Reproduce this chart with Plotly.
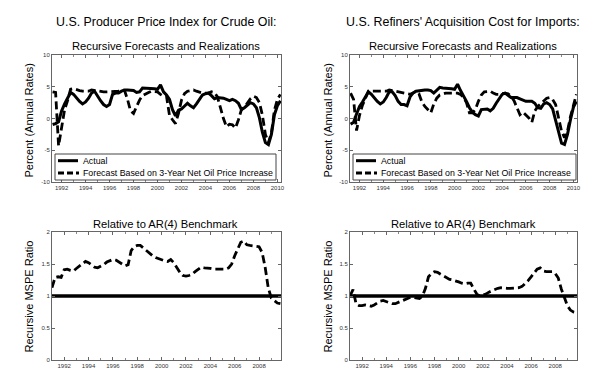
import plotly.graph_objects as go

# ---------------- data ----------------
# quarterly dates (decimal years)
top_dates = [1991.25 + 0.25 * i for i in range(77)]      # 1991Q2 .. 2010Q2
bot_dates = [1991.0 + 0.25 * i for i in range(76)]       # 1991Q1 .. 2009Q4

ppi_actual = [-0.95, -0.8, -0.5,
              1.2, 2.3, 3.3, 4.1,
              3.8, 3.2, 2.7, 2.3,
              2.6, 3.2, 4.0, 4.3,
              3.5, 2.8, 2.2, 1.9,
              2.2, 3.8, 4.0, 4.0,
              4.3, 4.5, 4.5, 4.4,
              4.4, 4.1, 4.2, 4.8,
              4.8, 4.8, 4.7, 4.7,
              4.6, 5.3, 4.2, 3.7,
              3.0, 1.4, 0.4, 1.3,
              1.5, 1.9, 2.4, 2.0,
              1.7, 2.3, 3.0, 3.7,
              3.9, 4.0, 3.6, 3.1,
              3.3, 3.3, 3.2, 3.0,
              2.8, 3.0, 2.8, 2.4,
              1.4, 1.7, 2.1, 2.5,
              2.3, 1.7, 0.1, -2.2,
              -3.8, -4.1, -2.5, 0.6,
              2.0, 2.8]
ppi_forecast = [4.2, 4.1, -4.3,
                -1.2, 1.4, 2.8, 4.6,
                4.7, 4.5, 4.4, 4.3,
                4.3, 4.3, 4.5, 4.4,
                4.3, 4.2, 4.2, 4.2,
                4.2, 4.2, 4.3, 4.3,
                4.5, 4.4, 3.0, 1.2,
                0.8, 1.9, 2.9, 3.6,
                3.9, 4.1, 4.3, 4.3,
                4.2, 3.8, 3.5, 3.5,
                0.5, -0.2, -0.8, 0.8,
                2.9, 3.9, 4.3, 4.4,
                4.5, 4.3, 4.1, 4.0,
                4.0, 4.0, 4.2, 4.1,
                3.4, 1.6, 0.0, -1.3,
                -0.9, -1.0, -1.5, -0.2,
                1.4, 1.8, 2.5, 3.1,
                3.5, 3.3, 2.5, 0.5,
                -2.5, -3.8, -2.3, 1.3,
                3.0, 3.8]

rac_actual = [-0.9, -0.6, 0.7,
              1.9, 2.6, 3.4, 4.2,
              3.8, 3.2, 2.7, 2.3,
              2.6, 3.3, 4.2, 4.2,
              3.6, 2.7, 2.2, 2.2,
              2.0, 3.4, 4.0, 4.3,
              4.4, 4.5, 4.5, 4.5,
              4.4, 4.0, 4.4, 4.9,
              4.8, 4.8, 4.7, 4.7,
              4.6, 5.4, 4.4, 3.6,
              2.7, 1.7, 1.0, 0.6,
              0.4, 1.4, 1.5, 1.5,
              1.2, 1.6, 2.4, 3.2,
              3.8, 4.0, 3.7, 3.3,
              3.3, 3.3, 3.1, 2.9,
              2.7, 2.7, 2.7, 2.4,
              1.7, 1.6, 2.3, 2.5,
              2.2, 1.5, -0.3, -2.5,
              -3.9, -4.1, -2.5, -0.2,
              1.8, 2.7]
rac_forecast = [4.0, 3.0, -1.9,
                0.5, 2.1, 3.2, 4.3,
                4.3, 4.3, 4.2, 4.2,
                4.2, 4.3, 4.5, 4.4,
                4.3, 4.2, 4.0, 4.0,
                3.9, 3.8, 4.0, 4.3,
                3.9, 2.6, 1.9, 1.4,
                0.9, 2.3, 3.2, 3.7,
                3.9, 4.0, 4.0, 4.0,
                4.0, 4.0, 3.8, 3.3,
                2.5, 0.9, 0.9, 1.4,
                2.7, 3.7, 4.2, 4.3,
                4.3, 4.0, 3.8, 3.8,
                3.9, 4.0, 3.9, 3.5,
                2.8, 1.6, 0.6, 1.0,
                0.5, 0.1, -0.6, 1.2,
                1.9, 2.3, 2.7, 3.2,
                3.3, 3.0, 2.2, 0.2,
                -2.0, -3.0, -2.0, 0.3,
                2.2, 3.8]

ppi_mspe = [1.13, 1.29, 1.30, 1.29,
            1.41, 1.42, 1.40, 1.39,
            1.43, 1.47, 1.50, 1.54,
            1.52, 1.48, 1.45, 1.44,
            1.46, 1.49, 1.53, 1.55,
            1.57, 1.56, 1.53, 1.50,
            1.47, 1.49, 1.71, 1.77,
            1.79, 1.79, 1.75, 1.71,
            1.66, 1.63, 1.60, 1.58,
            1.56, 1.55, 1.54, 1.57,
            1.52, 1.44, 1.37, 1.32,
            1.31, 1.32, 1.34, 1.38,
            1.41, 1.45, 1.44, 1.44,
            1.43, 1.42, 1.42, 1.42,
            1.42, 1.42, 1.44, 1.50,
            1.63, 1.73, 1.84, 1.86,
            1.80, 1.79, 1.78, 1.78,
            1.77, 1.68, 1.45, 1.13,
            0.97, 0.93, 0.89, 0.88]
rac_mspe = [1.00, 1.10, 0.88, 0.85,
            0.85, 0.86, 0.85, 0.84,
            0.86, 0.89, 0.92, 0.93,
            0.91, 0.90, 0.88, 0.88,
            0.90, 0.92, 0.95, 0.97,
            0.98, 0.98, 0.97, 0.96,
            1.00, 1.12, 1.30, 1.35,
            1.38, 1.37, 1.34, 1.31,
            1.28, 1.26, 1.25, 1.24,
            1.22, 1.20, 1.19, 1.20,
            1.20, 1.11, 1.03, 1.00,
            1.01, 1.03, 1.06, 1.08,
            1.11, 1.12, 1.13, 1.12,
            1.12, 1.12, 1.12, 1.12,
            1.13, 1.15, 1.19, 1.24,
            1.30, 1.37, 1.42, 1.44,
            1.39, 1.38, 1.38, 1.38,
            1.35, 1.28, 1.11, 0.98,
            0.85, 0.78, 0.75, 0.74]
benchmark = [1.0, 1.0]

top_xticks = [1992, 1994, 1996, 1998, 2000, 2002, 2004, 2006, 2008, 2010]
bot_xticks = [1992, 1994, 1996, 1998, 2000, 2002, 2004, 2006, 2008]
top_yticks = [-10, -5, 0, 5, 10]
top_ylabels = ["-10", "-5", "0", "5", "10"]
bot_yticks = [0, 0.5, 1, 1.5, 2]
bot_ylabels = ["0", "0.5", "1", "1.5", "2"]

legend_names = ["Actual", "Forecast Based on 3-Year Net Oil Price Increase"]
titles_left = ["U.S. Producer Price Index for Crude Oil:", "Recursive Forecasts and Realizations",
               "Relative to AR(4) Benchmark"]
titles_right = ["U.S. Refiners' Acquisition Cost for Imports:", "Recursive Forecasts and Realizations",
                "Relative to AR(4) Benchmark"]

# ---------------- figure ----------------
W, H = 600, 371
FONT = "Arial, Liberation Sans, sans-serif"
DASH = "8px,4px"
SOLID_W = 3.0
DASH_W = 2.8

def px_x(p):
    return p / W

def px_y(p):
    return 1 - p / H

fig = go.Figure()

# top-left
fig.add_trace(go.Scatter(x=top_dates, y=ppi_actual, mode="lines", name=legend_names[0], showlegend=False,
                         line=dict(color="black", width=SOLID_W), xaxis="x", yaxis="y"))
fig.add_trace(go.Scatter(x=top_dates, y=ppi_forecast, mode="lines", name=legend_names[1], showlegend=False,
                         line=dict(color="black", width=DASH_W, dash=DASH), xaxis="x", yaxis="y"))
# top-right
fig.add_trace(go.Scatter(x=top_dates, y=rac_actual, mode="lines", name=legend_names[0], showlegend=False,
                         line=dict(color="black", width=SOLID_W), xaxis="x2", yaxis="y2"))
fig.add_trace(go.Scatter(x=top_dates, y=rac_forecast, mode="lines", name=legend_names[1], showlegend=False,
                         line=dict(color="black", width=DASH_W, dash=DASH), xaxis="x2", yaxis="y2"))
# bottom-left
fig.add_trace(go.Scatter(x=[bot_dates[0], 2009.8], y=benchmark, mode="lines", showlegend=False,
                         line=dict(color="black", width=3.5), xaxis="x3", yaxis="y3"))
fig.add_trace(go.Scatter(x=bot_dates, y=ppi_mspe, mode="lines", showlegend=False,
                         line=dict(color="black", width=DASH_W, dash=DASH), xaxis="x3", yaxis="y3"))
# bottom-right
fig.add_trace(go.Scatter(x=[bot_dates[0], 2009.8], y=benchmark, mode="lines", showlegend=False,
                         line=dict(color="black", width=3.5), xaxis="x4", yaxis="y4"))
fig.add_trace(go.Scatter(x=bot_dates, y=rac_mspe, mode="lines", showlegend=False,
                         line=dict(color="black", width=DASH_W, dash=DASH), xaxis="x4", yaxis="y4"))

LEFT_X = [px_x(44), px_x(273)]
RIGHT_X = [px_x(342), px_x(569)]
TOP_Y = [px_y(174), px_y(47)]
BOT_Y = [px_y(352), px_y(224)]

tickfont = dict(family=FONT, size=6, color="#333333")
common = dict(showline=True, linecolor="#666666", linewidth=1, mirror="allticks",
              ticks="inside", ticklen=3, tickcolor="#666666", showgrid=False,
              zeroline=False, tickfont=tickfont, fixedrange=True)

def xaxis(domain, anchor, rng, ticks):
    return dict(domain=domain, anchor=anchor, range=rng, tickvals=ticks,
                ticktext=[str(t) for t in ticks],
                minor=dict(dtick=1, tick0=1991, ticks="inside", ticklen=2, tickcolor="#888888"),
                **common)

def yaxis(domain, anchor, rng, ticks, labels):
    return dict(domain=domain, anchor=anchor, range=rng, tickvals=ticks, ticktext=labels, **common)

fig.update_layout(
    width=W, height=H, autosize=False,
    margin=dict(l=0, r=0, t=0, b=0, autoexpand=False),
    paper_bgcolor="white", plot_bgcolor="white",
    font=dict(family=FONT, color="black"),
    showlegend=False,
    xaxis=xaxis(LEFT_X, "y", [1991.2, 2010.3], top_xticks),
    yaxis=yaxis(TOP_Y, "x", [-10, 10], top_yticks, top_ylabels),
    xaxis2=xaxis(RIGHT_X, "y2", [1991.2, 2010.3], top_xticks),
    yaxis2=yaxis(TOP_Y, "x2", [-10, 10], top_yticks, top_ylabels),
    xaxis3=xaxis(LEFT_X, "y3", [1991.0, 2009.8], bot_xticks),
    yaxis3=yaxis(BOT_Y, "x3", [0, 2], bot_yticks, bot_ylabels),
    xaxis4=xaxis(RIGHT_X, "y4", [1991.0, 2009.8], bot_xticks),
    yaxis4=yaxis(BOT_Y, "x4", [0, 2], bot_yticks, bot_ylabels),
)

annotations = []
shapes = []
for cx, texts, ycx, lg in [(158, titles_left, 20, (47, 268)), (455, titles_right, 319, (345, 568))]:
    def ann(text, x, y, size, angle=0, xanchor="center"):
        annotations.append(dict(text=text, x=px_x(x), y=px_y(y), xref="paper", yref="paper",
                                xanchor=xanchor, yanchor="middle", showarrow=False, textangle=angle,
                                font=dict(size=size, family=FONT, color="black")))
    ann(texts[0], cx, 14.5, 12.4)
    ann(texts[1], cx, 38.5, 11.2)
    ann(texts[2], cx, 216, 11.2)
    ann("Percent (Annual Rates)", ycx, 112.5, 11, angle=-90)
    ann("Recursive MSPE Ratio", ycx, 288.5, 11, angle=-90)
    # legend box (framed panel with line samples)
    x0, x1 = lg
    shapes.append(dict(type="rect", xref="paper", yref="paper",
                       x0=px_x(x0), x1=px_x(x1), y0=px_y(172), y1=px_y(146),
                       fillcolor="white", line=dict(color="#444444", width=1), layer="above"))
    shapes.append(dict(type="line", xref="paper", yref="paper",
                       x0=px_x(x0 + 3), x1=px_x(x0 + 23), y0=px_y(152.7), y1=px_y(152.7),
                       line=dict(color="black", width=3), layer="above"))
    shapes.append(dict(type="line", xref="paper", yref="paper",
                       x0=px_x(x0 + 3), x1=px_x(x0 + 24), y0=px_y(165), y1=px_y(165),
                       line=dict(color="black", width=2.8, dash="6px,3px"), layer="above"))
    ann(legend_names[0], x0 + 25.5, 152.7, 8.8, xanchor="left")
    ann(legend_names[1], x0 + 25.5, 165, 8.8, xanchor="left")

fig.update_layout(annotations=annotations, shapes=shapes)

fig.write_html("out.html")
